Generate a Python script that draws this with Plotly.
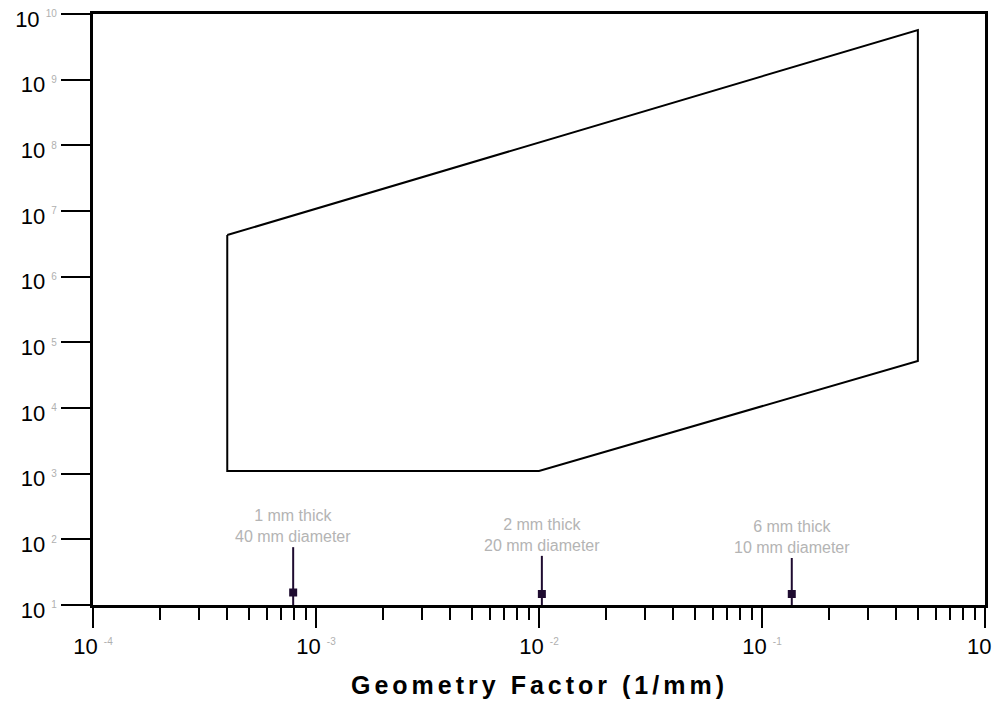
import numpy as np
import plotly.graph_objects as go

# Operating envelope polygon (x: geometry factor 1/mm, y: value)
envelope_x = [4.0e-4, 4.0e-4, 1.0e-2, 0.5, 0.5, 4.0e-4]
envelope_y = [4.3e6, 1.1e3, 1.1e3, 5.2e4, 5.7e9, 4.3e6]

# Specimen geometries
specimen_x = [7.9e-4, 1.03e-2, 0.136]
specimen_y = [15.5, 14.7, 14.7]
specimen_line_top = [76, 56, 52]
specimen_line_bottom = [10, 10, 10]
specimen_line1 = ["1 mm thick", "2 mm thick", "6 mm thick"]
specimen_line2 = ["40 mm diameter", "20 mm diameter", "10 mm diameter"]

x_exponents = [-4, -3, -2, -1, 0]
y_exponents = list(range(1, 11))
x_title = "Geometry Factor (1/mm)"

EXP_STYLE = "font-size:10px;color:#b0b0b0"


def tick_label(n):
    return f"10\u00a0<sup><span style='{EXP_STYLE}'>{n}</span></sup>"


fig = go.Figure()

fig.add_trace(go.Scatter(
    x=envelope_x, y=envelope_y, mode="lines",
    line=dict(color="black", width=2), showlegend=False, hoverinfo="skip",
))

mark_color = "#1e0b30"
for sx, top, bot in zip(specimen_x, specimen_line_top, specimen_line_bottom):
    fig.add_trace(go.Scatter(
        x=[sx, sx], y=[bot, top], mode="lines",
        line=dict(color=mark_color, width=2), showlegend=False, hoverinfo="skip",
    ))

fig.add_trace(go.Scatter(
    x=specimen_x, y=specimen_y, mode="markers",
    marker=dict(symbol="square", size=8, color=mark_color),
    showlegend=False, hoverinfo="skip",
))

for sx, top, l1, l2 in zip(specimen_x, specimen_line_top, specimen_line1, specimen_line2):
    fig.add_annotation(
        x=np.log10(sx), y=np.log10(top), xref="x", yref="y",
        text=f"{l1}<br>{l2}", showarrow=False, xanchor="center", yanchor="bottom",
        font=dict(family="Liberation Sans, Arial", size=16, color="#b4b4b4"),
    )

# x-axis title
fig.add_annotation(
    x=0.5, y=-0.135, xref="paper", yref="paper",
    text=f"<span style='letter-spacing:4px'>{x_title}</span>",
    showarrow=False, xanchor="center", yanchor="middle",
    font=dict(family="Liberation Sans, Arial", size=25, color="black", weight="bold"),
)

x_minor = [m * 10.0 ** e for e in x_exponents[:-1] for m in range(2, 10)]

fig.update_layout(
    width=996, height=696,
    margin=dict(l=85, r=19, t=6, b=99),
    paper_bgcolor="white", plot_bgcolor="white",
    font=dict(family="Liberation Sans, Arial", color="black"),
    xaxis=dict(
        type="log", range=[-4, 0], automargin=False, ticklabeloverflow="allow",
        tickvals=[10.0 ** e for e in x_exponents],
        ticktext=[tick_label(e) for e in x_exponents],
        ticks="outside", ticklen=20, tickwidth=2, tickcolor="black",
        minor=dict(tickmode="array", tickvals=x_minor, ticks="outside",
                   ticklen=12, tickwidth=2, tickcolor="black", showgrid=False),
        showline=True, linecolor="black", linewidth=2.5, mirror=True,
        showgrid=False, zeroline=False,
        tickfont=dict(size=22, color="black"),
    ),
    yaxis=dict(
        type="log", range=[1, 10], automargin=False, ticklabeloverflow="allow",
        tickvals=[10.0 ** e for e in y_exponents],
        ticktext=[tick_label(e) for e in y_exponents],
        ticks="outside", ticklen=29, tickwidth=2, tickcolor="black",
        ticklabelshift=5,
        showline=True, linecolor="black", linewidth=2.5, mirror=True,
        showgrid=False, zeroline=False,
        tickfont=dict(size=22, color="black"),
    ),
)

fig.write_html("out.html")
